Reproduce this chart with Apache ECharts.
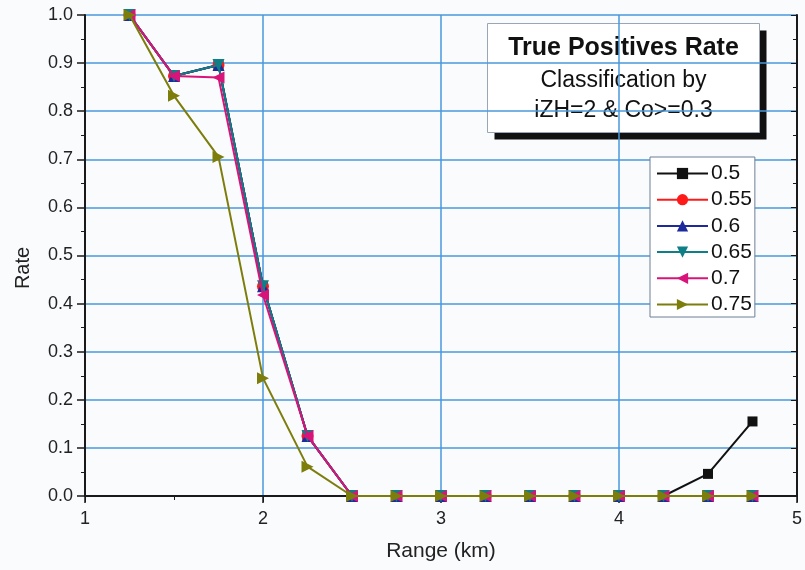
<!DOCTYPE html>
<html>
<head>
<meta charset="utf-8">
<script src="https://cdn.jsdelivr.net/npm/echarts@6/dist/echarts.min.js"></script>
<style>
  html, body { margin: 0; padding: 0; background: #fafbfd; }
  #main { width: 805px; height: 570px; }
</style>
</head>
<body>
<div id="main"></div>
<script>
// range (km) of each point
var ranges = [1.25, 1.5, 1.75, 2, 2.25, 2.5, 2.75, 3, 3.25, 3.5, 3.75, 4, 4.25, 4.5, 4.75];
var names = ['0.5', '0.55', '0.6', '0.65', '0.7', '0.75'];
var r050 = [1, 0.873, 0.896, 0.436, 0.125, 0, 0, 0, 0, 0, 0, 0, 0, 0.046, 0.155];
var r055 = [1, 0.873, 0.896, 0.436, 0.125, 0, 0, 0, 0, 0, 0, 0, 0, 0, 0];
var r060 = [1, 0.873, 0.896, 0.436, 0.125, 0, 0, 0, 0, 0, 0, 0, 0, 0, 0];
var r065 = [1, 0.873, 0.896, 0.436, 0.125, 0, 0, 0, 0, 0, 0, 0, 0, 0, 0];
var r070 = [1, 0.873, 0.870, 0.418, 0.125, 0, 0, 0, 0, 0, 0, 0, 0, 0, 0];
var r075 = [1, 0.832, 0.705, 0.245, 0.061, 0, 0, 0, 0, 0, 0, 0, 0, 0, 0];
var yTickLabels = ['0.0', '0.1', '0.2', '0.3', '0.4', '0.5', '0.6', '0.7', '0.8', '0.9', '1.0'];

var values = [r050, r055, r060, r065, r070, r075];
var colors = ['#111111', '#ff1a1a', '#1c2a9c', '#0e7f86', '#d8147a', '#7d7d0c'];
var symbols = ['rect', 'circle', 'triangle', 'triangle', 'triangle', 'triangle'];
var rotates = [0, 0, 0, 180, 90, -90];

function pairs(ys) {
  return ranges.map(function (x, i) { return [x, ys[i]]; });
}

var myChart = echarts.init(document.getElementById('main'));

var gridBlue = '#4a98dc';
var axisColor = '#1a1a1a';
var font = 'Liberation Sans, Arial, sans-serif';

var series = names.map(function (n, i) {
  return {
    name: n,
    type: 'line',
    data: pairs(values[i]),
    symbol: symbols[i],
    symbolRotate: rotates[i],
    symbolSize: i === 0 ? 10 : 12,
    lineStyle: { color: colors[i], width: 2 },
    itemStyle: { color: colors[i] },
    emphasis: { disabled: true },
    z: 3 + i
  };
});

myChart.setOption({
  backgroundColor: '#fafbfd',
  animation: false,
  textStyle: { fontFamily: font },
  grid: { left: 85, right: 5, top: 15, bottom: 74 },
  legend: {
    orient: 'vertical',
    left: 650,
    top: 157,
    backgroundColor: '#ffffff',
    borderColor: '#6d7f95',
    borderWidth: 1,
    borderRadius: 0,
    padding: [6, 3, 2, 6],
    itemWidth: 51,
    itemHeight: 14,
    itemGap: 5.2,
    textStyle: { fontSize: 21, lineHeight: 21, color: '#111', fontFamily: font, padding: [0, 0, 0, -2] },
    data: names
  },
  xAxis: [{
    type: 'value',
    min: 1, max: 5, interval: 1,
    name: 'Range (km)',
    nameLocation: 'middle',
    nameGap: 45,
    nameTextStyle: { fontSize: 21, color: '#222' },
    axisLine: { onZero: false, lineStyle: { color: axisColor, width: 2 } },
    axisTick: { length: 7, lineStyle: { color: axisColor, width: 1.5 } },
    minorTick: { show: true, splitNumber: 2, length: 4, lineStyle: { color: axisColor } },
    axisLabel: { fontSize: 18, color: '#222', margin: 14 },
    splitLine: { show: true, lineStyle: { color: gridBlue, width: 1.5 } }
  }, {
    type: 'value',
    position: 'top',
    min: 1, max: 5, interval: 1,
    axisLine: { show: true, lineStyle: { color: axisColor, width: 2 } },
    axisTick: { inside: true, length: 6, lineStyle: { color: axisColor } },
    minorTick: { show: true, splitNumber: 2, length: 4, lineStyle: { color: axisColor } },
    axisLabel: { show: false },
    splitLine: { show: false }
  }],
  yAxis: [{
    type: 'value',
    min: 0, max: 1, interval: 0.1,
    axisLine: { show: true, lineStyle: { color: axisColor, width: 2 } },
    axisTick: { length: 8, lineStyle: { color: axisColor, width: 1.5 } },
    minorTick: { show: true, splitNumber: 2, length: 4, lineStyle: { color: axisColor } },
    axisLabel: {
      fontSize: 18, color: '#222', margin: 12,
      formatter: function (v) { return yTickLabels[Math.round(v * 10)]; }
    },
    splitLine: { show: true, lineStyle: { color: gridBlue, width: 1.5 } }
  }, {
    type: 'value',
    position: 'right',
    min: 0, max: 1, interval: 0.1,
    axisLine: { show: true, lineStyle: { color: axisColor, width: 2 } },
    axisTick: { inside: true, length: 6, lineStyle: { color: axisColor } },
    minorTick: { show: true, splitNumber: 2, length: 4, lineStyle: { color: axisColor } },
    axisLabel: { show: false },
    splitLine: { show: false }
  }],
  graphic: [{
    type: 'text',
    x: 23, y: 268,
    rotation: Math.PI / 2,
    style: {
      text: 'Rate', align: 'center', verticalAlign: 'middle',
      font: '20px ' + font, fill: '#222'
    }
  }, {
    type: 'group',
    left: 487,
    top: 23,
    z: 100,
    children: [{
      type: 'rect',
      shape: { x: 7, y: 7, width: 272, height: 109 },
      style: { fill: '#111' }
    }, {
      type: 'rect',
      shape: { x: 0, y: 0, width: 272, height: 109 },
      style: { fill: '#ffffff', stroke: '#9aa6b6', lineWidth: 1 }
    }, {
      type: 'text',
      x: 136, y: 25,
      style: {
        text: 'True Positives Rate', align: 'center', verticalAlign: 'middle',
        font: 'bold 25px ' + font, fill: '#111'
      }
    }, {
      type: 'text',
      x: 136, y: 57,
      style: {
        text: 'Classification by', align: 'center', verticalAlign: 'middle',
        font: '23px ' + font, fill: '#111'
      }
    }, {
      type: 'text',
      x: 136, y: 87,
      style: {
        text: 'iZH=2 & Co>=0.3', align: 'center', verticalAlign: 'middle',
        font: '23px ' + font, fill: '#111'
      }
    }]
  }],
  series: series
});
</script>
</body>
</html>
